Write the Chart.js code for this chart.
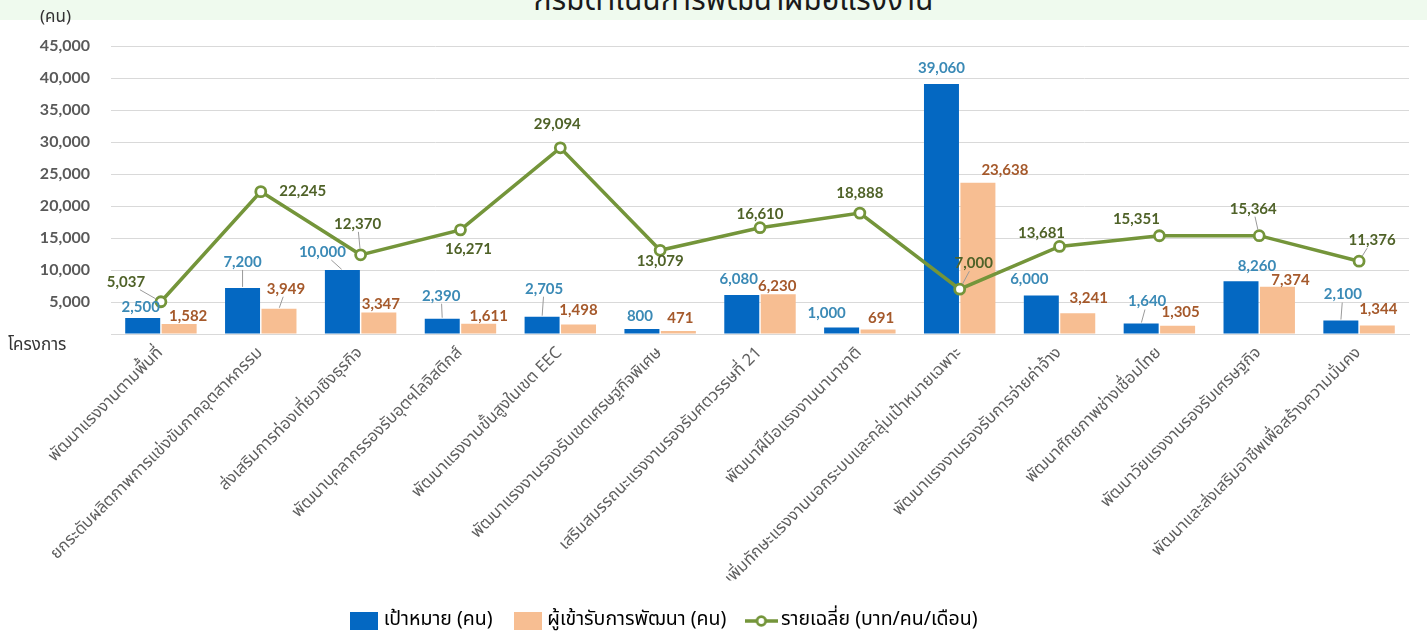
<!DOCTYPE html>
<html>
<head>
<meta charset="utf-8">
<script src="https://cdn.jsdelivr.net/npm/chart.js@4.4.1/dist/chart.umd.min.js"></script>
<style>
  html, body { margin:0; padding:0; background:#ffffff; }
  #wrap { position:relative; width:1427px; height:635px; overflow:hidden; background:#ffffff; }
  #band { position:absolute; left:0; top:0; width:1427px; height:20px; background:#effaee; }
  #title { position:absolute; left:0; width:1427px; top:-22px; text-align:center; font-size:30px; color:#1a1a1a; font-family:'Noto Sans Thai','Tahoma','Noto Sans',sans-serif; padding-left:40px; box-sizing:border-box; white-space:nowrap; }
  #unit { position:absolute; left:40px; top:4px; font-size:17px; color:#333; font-family:'Noto Sans Thai','Tahoma','Noto Sans',sans-serif; }
  #xname { position:absolute; left:8px; top:332px; font-size:17px; color:#333; font-family:'Noto Sans Thai','Tahoma','Noto Sans',sans-serif; }
  canvas { position:absolute; left:0; top:0; }
</style>
</head>
<body>
<div id="wrap">
  <div id="band"></div>
  <div id="title">กรมดำเนินการพัฒนาฝีมือแรงงาน</div>
  <canvas id="c" width="1427" height="635"></canvas>
  <div id="unit">(คน)</div>
  <div id="xname">โครงการ</div>
</div>
<script>
// ---- data ----
const categories = [
  'พัฒนาแรงงานตามพื้นที่',
  'ยกระดับผลิตภาพการแข่งขันภาคอุตสาหกรรม',
  'ส่งเสริมการท่องเที่ยวเชิงธุรกิจ',
  'พัฒนาบุคลากรรองรับอุตฯโลจิสติกส์',
  'พัฒนาแรงงานขั้นสูงในเขต EEC',
  'พัฒนาแรงงานรองรับเขตเศรษฐกิจพิเศษ',
  'เสริมสมรรถนะแรงงานรองรับศตวรรษที่ 21',
  'พัฒนาฝีมือแรงงานนานาชาติ',
  'เพิ่มทักษะแรงงานนอกระบบและกลุ่มเป้าหมายเฉพาะ',
  'พัฒนาแรงงานรองรับการจ่ายค่าจ้าง',
  'พัฒนาศักยภาพช่างเชื่อมไทย',
  'พัฒนาวัยแรงงานรองรับเศรษฐกิจ',
  'พัฒนาและส่งเสริมอาชีพเพื่อสร้างความมั่นคง'
];
const targetPeople = [2500, 7200, 10000, 2390, 2705, 800, 6080, 1000, 39060, 6000, 1640, 8260, 2100];
const trainedPeople = [1582, 3949, 3347, 1611, 1498, 471, 6230, 691, 23638, 3241, 1305, 7374, 1344];
const avgIncome = [5037, 22245, 12370, 16271, 29094, 13079, 16610, 18888, 7000, 13681, 15351, 15364, 11376];
const seriesNames = ['เป้าหมาย (คน)', 'ผู้เข้ารับการพัฒนา (คน)', 'รายเฉลี่ย (บาท/คน/เดือน)'];
const yTicks = [0, 5000, 10000, 15000, 20000, 25000, 30000, 35000, 40000, 45000];

// ---- styles ----
const THAI = "'Noto Sans Thai', Tahoma, 'Noto Sans', sans-serif";
const NUM = "Lato, 'Noto Sans', sans-serif";
const BLUE = '#0468c2', PEACH = '#f7be92', GREEN = '#74953a';
const labelStyle = [
  { color: '#3b8ab6', offsets: [[-2,-11,0],[0,-26,1],[-20,-18,1],[-1,-23,1],[2,-28,1],[-2,-13,0],[-3,-16,0],[-15,-14,0],[0,-16,0],[-12,-16,0],[6,-22,1],[16,-15,0],[2,-26,1]] },
  { color: '#a5592b', offsets: [[9,-8,0],[7,-20,1],[2,-8,0],[10,-8,0],[0,-14,0],[2,-13,0],[-1,-8,0],[3,-11,0],[27,-13,0],[11,-15,0],[3,-13,0],[13,-7,0],[1,-16,0]] },
  { color: '#4f6228', offsets: [[-35,-20,1],[42,0,0],[-3,-31,1],[8,19,0],[-3,-24,0],[0,11,0],[0,-14,0],[0,-20,0],[14,-26,1],[-18,-13,0],[-23,-17,0],[-6,-27,1],[13,-21,1]] }
];
const fmt = v => v.toLocaleString('en-US');

const valueLabels = {
  id: 'valueLabels',
  afterDatasetsDraw(chart) {
    const ctx = chart.ctx;
    ctx.save();
    ctx.font = 'bold 15px ' + NUM;
    ctx.textAlign = 'center';
    ctx.textBaseline = 'middle';
    chart.data.datasets.forEach((ds, di) => {
      const meta = chart.getDatasetMeta(di);
      const st = labelStyle[di];
      meta.data.forEach((el, i) => {
        const [dx, dy, lead] = st.offsets[i];
        const text = fmt(ds.data[i]);
        const lx = el.x + dx, ly = el.y + dy;
        const w = ctx.measureText(text).width, h = 14;
        if (lead) {
          const vx = el.x - lx, vy = el.y - ly;
          const tx = Math.abs(vx) > 0.01 ? (w / 2 + 2) / Math.abs(vx) : Infinity;
          const ty = Math.abs(vy) > 0.01 ? (h / 2 + 1) / Math.abs(vy) : Infinity;
          const t = Math.min(tx, ty, 1);
          const sx = lx + vx * t, sy = ly + vy * t;
          const end = di === 2 ? 6 : 1;
          const len = Math.hypot(el.x - sx, el.y - sy);
          if (len > end + 2) {
            const ex = el.x - (el.x - sx) / len * end, ey = el.y - (el.y - sy) / len * end;
            ctx.strokeStyle = '#9a9a9a';
            ctx.lineWidth = 1;
            ctx.beginPath(); ctx.moveTo(sx, sy); ctx.lineTo(ex, ey); ctx.stroke();
          }
        }
        ctx.fillStyle = st.color;
        ctx.fillText(text, lx, ly);
      });
    });
    ctx.restore();
  }
};

const LEGEND_FONT = 19.5;
const legendShift = {
  id: 'legendShift',
  afterLayout(chart) {
    const lg = chart.legend;
    if (!lg || !lg.lineWidths) return;
    const pad = lg.options.labels.padding;
    const cur = (lg.left + pad + lg.right - lg.lineWidths[0]) / 2;
    const shift = 354 - cur;
    lg.left += shift; lg.right += shift;
    const h = lg.height;
    lg.top = 621 - pad - LEGEND_FONT / 2; lg.bottom = lg.top + h;
  }
};

function makeIcon(w, h, draw) {
  const cv = document.createElement('canvas');
  cv.width = w; cv.height = h;
  draw(cv.getContext('2d'));
  return cv;
}
const blueIcon = makeIcon(28, 18, g => { g.fillStyle = BLUE; g.fillRect(0, 0, 28, 18); });
const peachIcon = makeIcon(28, 18, g => { g.fillStyle = PEACH; g.fillRect(0, 0, 28, 18); });
const lineIcon = makeIcon(33, 14, g => {
  g.strokeStyle = GREEN; g.lineWidth = 3.5;
  g.beginPath(); g.moveTo(0, 7); g.lineTo(33, 7); g.stroke();
  g.fillStyle = '#fff'; g.lineWidth = 2.8;
  g.beginPath(); g.arc(16.5, 7, 4.3, 0, Math.PI * 2); g.fill(); g.stroke();
});
const legendIcons = [blueIcon, peachIcon, lineIcon];

new Chart(document.getElementById('c'), {
  data: {
    labels: categories,
    datasets: [
      { type: 'bar', label: seriesNames[0], data: targetPeople, backgroundColor: BLUE, order: 1,
        categoryPercentage: 0.73, barPercentage: 0.96 },
      { type: 'bar', label: seriesNames[1], data: trainedPeople, backgroundColor: PEACH, order: 2,
        categoryPercentage: 0.73, barPercentage: 0.96 },
      { type: 'line', label: seriesNames[2], data: avgIncome, borderColor: GREEN, borderWidth: 3.5,
        pointRadius: 5, pointBorderWidth: 2.8, pointBackgroundColor: '#ffffff', pointBorderColor: GREEN,
        tension: 0, order: 0 }
    ]
  },
  options: {
    responsive: false,
    animation: false,
    layout: { padding: { top: 46, right: 18, left: 0, bottom: 0 } },
    plugins: {
      title: { display: false },
      tooltip: { enabled: false },
      legend: {
        position: 'bottom',
        labels: {
          usePointStyle: true,
          pointStyleWidth: 20,
          boxHeight: 18,
          padding: 25,
          color: '#333333',
          font: { size: LEGEND_FONT, family: THAI },
          generateLabels(chart) {
            return chart.data.datasets.map((ds, i) => ({
              text: ds.label,
              fillStyle: ds.type === 'bar' ? ds.backgroundColor : '#fff',
              strokeStyle: ds.type === 'bar' ? ds.backgroundColor : GREEN,
              lineWidth: 0,
              pointStyle: legendIcons[i],
              datasetIndex: i,
              hidden: false
            }));
          }
        }
      }
    },
    scales: {
      x: {
        grid: { display: false, drawTicks: false },
        border: { display: true, color: '#d9d9d9', width: 1 },
        ticks: { minRotation: 45, maxRotation: 45, autoSkip: false, padding: 10,
                 color: '#5f5f5f', font: { size: 16.5, family: THAI } },
        afterFit(s) { s.height = 635 - 334 - (s.chart.legend ? s.chart.legend.height : 0); }
      },
      y: {
        min: 0, max: 45000,
        afterBuildTicks(s) { s.ticks = yTicks.map(v => ({ value: v })); },
        grid: { color: '#d9d9d9', lineWidth: 1, drawTicks: false },
        border: { display: false },
        ticks: { padding: 21, color: '#595959', font: { size: 16, weight: 'bold', family: NUM },
                 callback: v => v === 0 ? '' : fmt(v) },
        afterFit(s) { s.width = 111; }
      }
    }
  },
  plugins: [valueLabels, legendShift]
});
</script>
</body>
</html>
